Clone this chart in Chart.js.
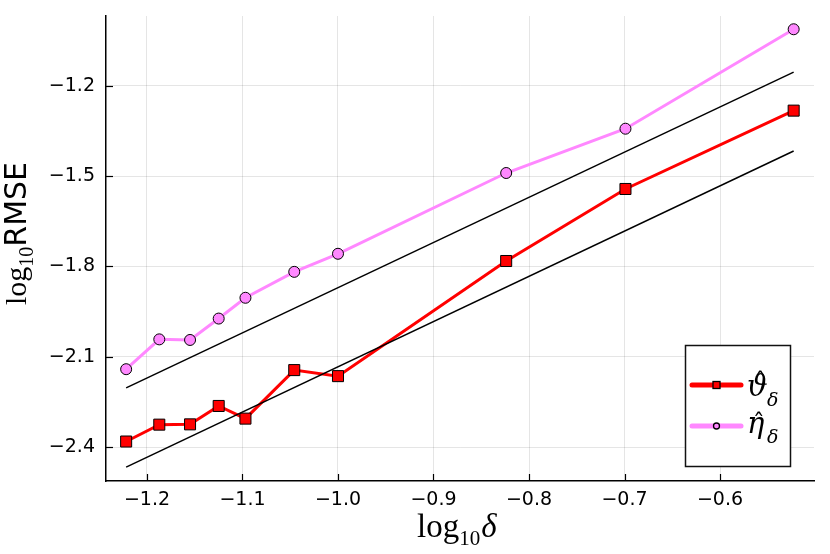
<!DOCTYPE html>
<html>
<head>
<meta charset="utf-8">
<script src="https://cdn.jsdelivr.net/npm/chart.js@4.4.1/dist/chart.umd.min.js"></script>
<style>
  html, body { margin: 0; padding: 0; background: #fff; }
  #wrap { width: 830px; height: 554px; }
</style>
</head>
<body>
<div id="wrap"><canvas id="rmseChart" width="830" height="554"></canvas></div>
<script>
// log10 of delta = 0.06, 0.065, 0.07, 0.075, 0.08, 0.09, 0.1, 0.15, 0.2, 0.3
const logDelta = [-1.2218, -1.1871, -1.1549, -1.1249, -1.0969, -1.0458, -1.0, -0.8239, -0.699, -0.5229];
const thetaRmse = [-2.381, -2.325, -2.324, -2.263, -2.305, -2.144, -2.164, -1.782, -1.543, -1.283];
const etaRmse = [-2.141, -2.042, -2.044, -1.973, -1.904, -1.818, -1.758, -1.490, -1.343, -1.013];

// reference slope lines
const refX = [-1.2218, -0.5229];
const refUpper = [-2.203, -1.155];
const refLower = [-2.466, -1.417];

const xTicks = [-1.2, -1.1, -1.0, -0.9, -0.8, -0.7, -0.6];
const yTicks = [-2.4, -2.1, -1.8, -1.5, -1.2];

const RED = "#ff0000";
const PINK = "#ff88ff";

function toPoints(xs, ys) {
  return xs.map((x, i) => ({ x: x, y: ys[i] }));
}

function fmt(v) {
  return (v < 0 ? "\u2212" : "") + Math.abs(v).toFixed(1);
}

// draw a glyph with a hat on top and a subscript delta
function hatted(ctx, glyph, x, y, hatY) {
  ctx.font = "italic 29px 'DejaVu Serif'";
  const gw = ctx.measureText(glyph).width;
  ctx.fillText(glyph, x, y);
  ctx.font = "24px 'DejaVu Serif'";
  const hw = ctx.measureText("\u02c6").width;
  ctx.fillText("\u02c6", x + gw / 2 - hw / 2 + 3, hatY);
  ctx.font = "italic 19px 'DejaVu Serif'";
  ctx.fillText("\u03b4", 767, y + 10);
}

// inward tick marks, axis titles and the legend box
const extrasPlugin = {
  id: "extras",
  afterDraw(chart) {
    const ctx = chart.ctx;
    const area = chart.chartArea;
    const xs = chart.scales.x;
    const ys = chart.scales.y;
    ctx.save();
    ctx.strokeStyle = "#000";
    ctx.lineWidth = 1.2;
    xTicks.forEach((t) => {
      const px = Math.round(xs.getPixelForValue(t)) + 0.5;
      ctx.beginPath();
      ctx.moveTo(px, area.bottom);
      ctx.lineTo(px, area.bottom - 7);
      ctx.stroke();
    });
    yTicks.forEach((t) => {
      const py = Math.round(ys.getPixelForValue(t)) + 0.5;
      ctx.beginPath();
      ctx.moveTo(area.left, py);
      ctx.lineTo(area.left + 7, py);
      ctx.stroke();
    });

    // x title: log10 delta
    ctx.fillStyle = "#000";
    ctx.textBaseline = "alphabetic";
    ctx.textAlign = "left";
    let x = 417;
    const base = 537;
    ctx.font = "33px 'Liberation Serif'";
    ctx.fillText("log", x, base);
    x += ctx.measureText("log").width;
    ctx.font = "21px 'Liberation Serif'";
    ctx.fillText("10", x, base + 8);
    x += ctx.measureText("10").width + 1;
    ctx.font = "italic 33px 'Liberation Serif'";
    ctx.fillText("\u03b4", x, base);

    // y title: log10 RMSE (rotated)
    ctx.save();
    ctx.translate(26, 305);
    ctx.rotate(-Math.PI / 2);
    let yx = 0;
    ctx.font = "30px 'Liberation Serif'";
    ctx.fillText("log", yx, 0);
    yx += ctx.measureText("log").width;
    ctx.font = "20px 'Liberation Serif'";
    ctx.fillText("10", yx, 7);
    yx += ctx.measureText("10").width;
    ctx.font = "30px 'DejaVu Sans'";
    ctx.fillText("RMSE", yx, 0);
    ctx.restore();

    // legend
    const lx = 685, ly = 345, lw = 105, lh = 121;
    ctx.fillStyle = "#fff";
    ctx.fillRect(lx, ly, lw, lh);
    ctx.lineWidth = 1.5;
    ctx.strokeStyle = "#111";
    ctx.strokeRect(lx + 0.5, ly + 0.5, lw, lh);

    const rows = [
      { color: RED, y: 385, glyph: "\u03d1", marker: "square", base: 396, hat: 390 },
      { color: PINK, y: 426, glyph: "\u03b7", marker: "circle", base: 433, hat: 431 },
    ];
    rows.forEach((r) => {
      ctx.strokeStyle = r.color;
      ctx.lineWidth = 5;
      ctx.lineCap = "round";
      ctx.beginPath();
      ctx.moveTo(692, r.y);
      ctx.lineTo(741, r.y);
      ctx.stroke();
      ctx.lineCap = "butt";
      ctx.lineWidth = 1.3;
      ctx.strokeStyle = "#000";
      ctx.fillStyle = r.color;
      if (r.marker === "square") {
        ctx.fillRect(713, r.y - 3.5, 7, 7);
        ctx.strokeRect(713, r.y - 3.5, 7, 7);
      } else {
        ctx.beginPath();
        ctx.arc(716.5, r.y, 3, 0, Math.PI * 2);
        ctx.fill();
        ctx.stroke();
      }
      ctx.fillStyle = "#000";
      hatted(ctx, r.glyph, 747, r.base, r.hat);
    });
    ctx.restore();
  },
};

function renderRmseChart() {
  const ctx = document.getElementById("rmseChart").getContext("2d");
  new Chart(ctx, {
    type: "line",
    data: {
      datasets: [
        {
          label: "theta",
          data: toPoints(logDelta, thetaRmse),
          borderColor: RED,
          backgroundColor: RED,
          borderWidth: 3,
          pointStyle: "rect",
          pointRadius: 7.8,
          pointBorderColor: "#000",
          pointBorderWidth: 1,
          pointBackgroundColor: RED,
          tension: 0,
          order: 2,
        },
        {
          label: "eta",
          data: toPoints(logDelta, etaRmse),
          borderColor: PINK,
          backgroundColor: PINK,
          borderWidth: 3,
          pointStyle: "circle",
          pointRadius: 5.5,
          pointBorderColor: "#000",
          pointBorderWidth: 1,
          pointBackgroundColor: PINK,
          tension: 0,
          order: 1,
        },
        {
          label: "ref upper",
          data: toPoints(refX, refUpper),
          borderColor: "#000",
          borderWidth: 1.5,
          pointRadius: 0,
          order: 0,
        },
        {
          label: "ref lower",
          data: toPoints(refX, refLower),
          borderColor: "#000",
          borderWidth: 1.5,
          pointRadius: 0,
          order: 0,
        },
      ],
    },
    options: {
      responsive: false,
      animation: false,
      layout: { padding: { left: 0, right: 16, top: 16, bottom: 0 } },
      plugins: {
        legend: { display: false },
        tooltip: { enabled: false },
      },
      scales: {
        x: {
          type: "linear",
          min: -1.2429,
          max: -0.5016,
          afterBuildTicks: (scale) => {
            scale.ticks = xTicks.map((v) => ({ value: v }));
          },
          afterFit: (scale) => {
            scale.height = 73;
            scale.paddingLeft = 0;
            scale.paddingRight = 0;
          },
          ticks: {
            callback: (v) => fmt(v),
            color: "#000",
            font: { family: "DejaVu Sans", size: 19 },
            padding: 8,
            maxRotation: 0,
          },
          grid: { color: "rgba(0,0,0,0.1)", lineWidth: 1, drawTicks: false },
          border: { display: true, color: "#000", width: 1.5 },
        },
        y: {
          type: "linear",
          min: -2.512,
          max: -0.969,
          afterBuildTicks: (scale) => {
            scale.ticks = yTicks.map((v) => ({ value: v }));
          },
          afterFit: (scale) => {
            scale.width = 106;
            scale.paddingTop = 0;
            scale.paddingBottom = 0;
          },
          ticks: {
            callback: (v) => fmt(v),
            color: "#000",
            font: { family: "DejaVu Sans", size: 19 },
            padding: 11,
          },
          grid: { color: "rgba(0,0,0,0.1)", lineWidth: 1, drawTicks: false },
          border: { display: true, color: "#000", width: 1.5 },
        },
      },
    },
    plugins: [extrasPlugin],
  });
}

document.addEventListener("DOMContentLoaded", () => {
  renderRmseChart();
});
</script>
</body>
</html>
